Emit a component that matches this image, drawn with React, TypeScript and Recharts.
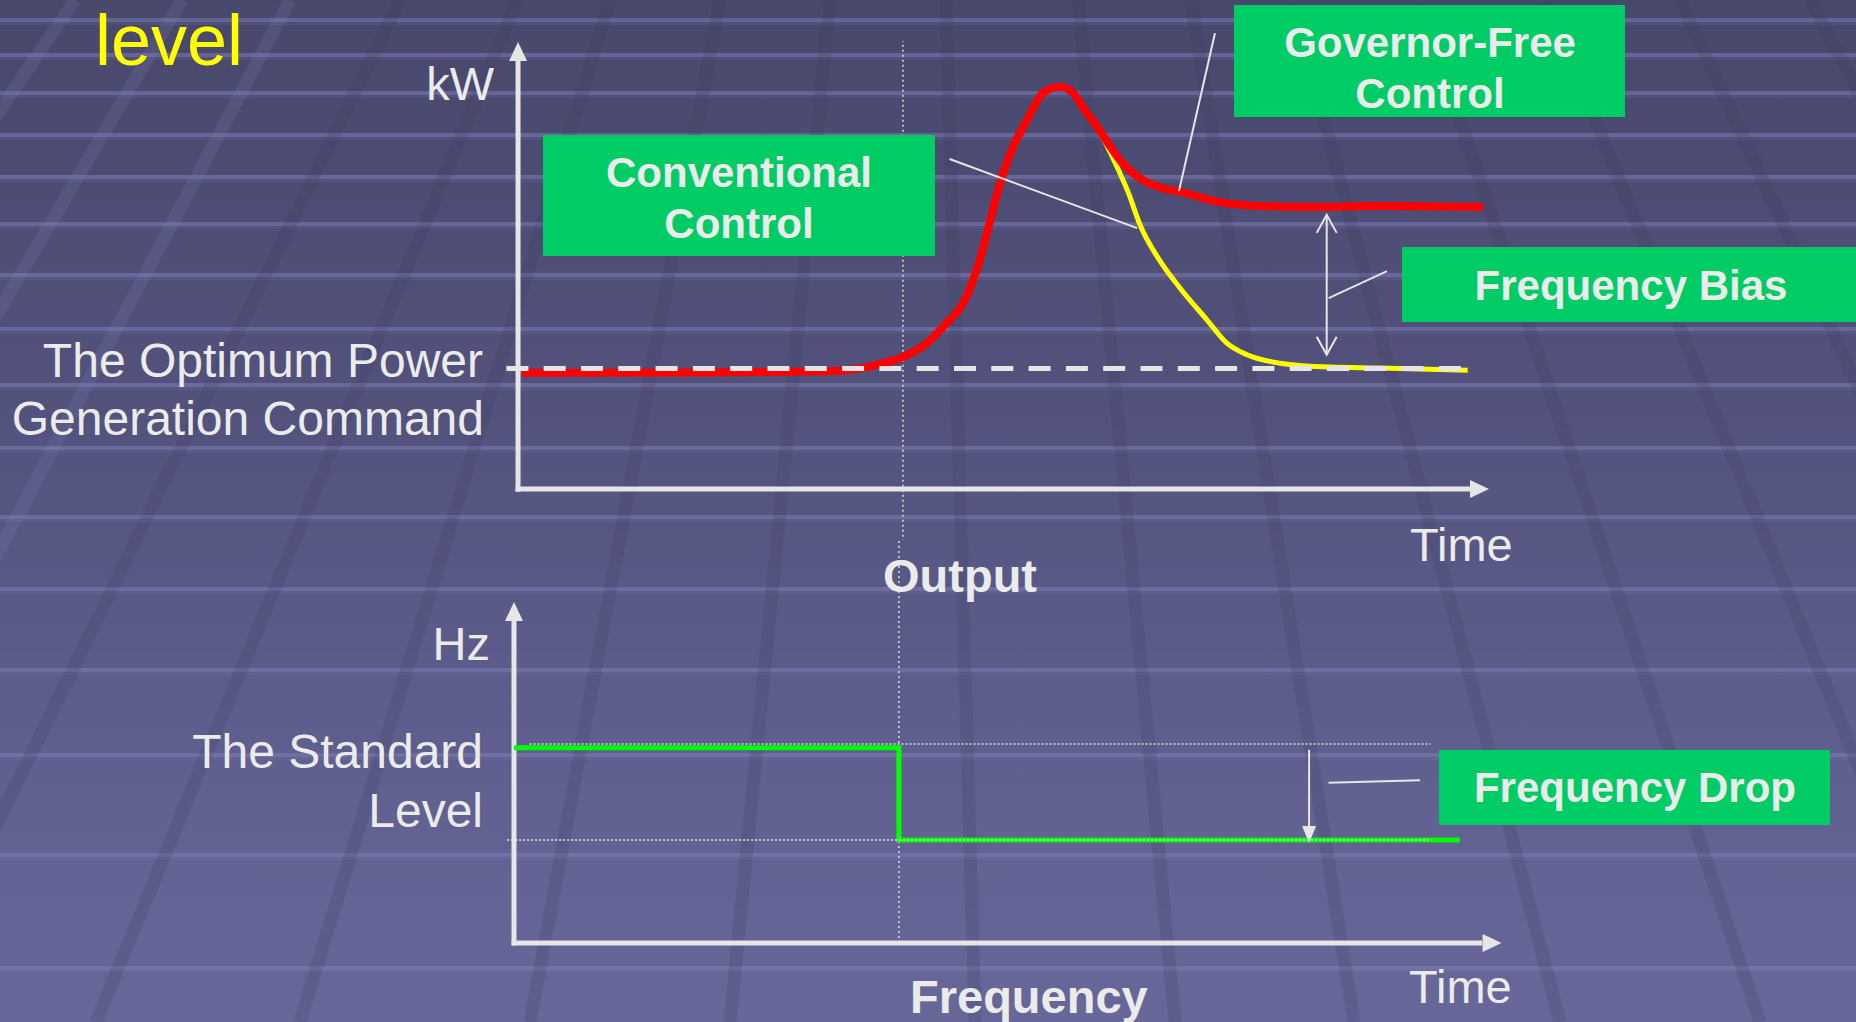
import { LineChart, Line, XAxis, YAxis, ReferenceLine, ReferenceDot } from 'recharts';

const W = 1856;
const H = 1022;

// Output panel (kW against time, time in % of the axis)
const governorFreeTime = [0.4, 18.7, 31.1, 35.2, 36.9, 39.6, 42.1, 43.7, 46.3, 47.5, 48.4, 49.3, 49.8, 50.4, 51.1, 52.0, 52.9, 54.0, 55.8, 57.1, 58.3, 59.6, 60.7, 61.9, 62.9, 64.3, 66.0, 68.6, 72.2, 76.6, 81.8, 88.7, 99.3];
const governorFreeKW = [26.4, 26.5, 26.7, 27.4, 28.2, 30.0, 33.2, 36.8, 44.5, 52.0, 59.5, 67.2, 70.9, 74.8, 78.6, 82.3, 86.1, 90.0, 91.4, 90.0, 86.1, 82.3, 78.6, 74.8, 72.5, 70.2, 68.6, 67.3, 65.2, 64.3, 64.1, 64.3, 64.1];

const conventionalTime = [0.4, 18.7, 31.1, 35.2, 36.9, 39.6, 42.1, 43.7, 46.3, 47.5, 48.4, 49.3, 49.8, 50.4, 51.1, 52.0, 52.9, 54.0, 55.8, 57.1, 58.3, 59.9, 61.4, 62.8, 64.0, 66.0, 68.1, 70.9, 72.9, 75.0, 78.4, 83.5, 88.7, 97.7];
const conventionalKW = [26.4, 26.5, 26.7, 27.4, 28.2, 30.0, 33.2, 36.8, 44.5, 52.0, 59.5, 67.2, 70.9, 74.8, 78.6, 82.3, 86.1, 90.0, 91.4, 90.0, 86.1, 80.9, 74.3, 67.3, 60.0, 52.0, 45.7, 38.4, 33.2, 30.5, 28.6, 27.7, 27.5, 27.0];

const commandTime = [-1.2, 97.1];
const commandKW = [27.4, 27.4];

// Frequency panel (Hz against time)
const frequencyTime = [0, 39.6, 97.3];
const frequencyHz = [57.4, 30.3, 30.3];
const standardLevelHz = 58.5;
const droppedLevelHz = 30.3;

const eventTime = 39.6;
const biasTime = 83.2;
const dropTime = 81.8;

// background decoration
const stripeYs = [20, 55, 93, 135, 177, 224, 275, 329, 385, 448, 517, 589, 670, 755, 855, 968];
const rays: [number, number][] = [
  [-120, -900], [75, -620], [182, -420], [290, -250], [400, -100], [517, 96], [610, 300],
  [720, 530], [830, 730], [946, 975], [1078, 1175], [1191, 1354], [1293, 1560],
  [1420, 1760], [1546, 1963], [1680, 2150], [1810, 2350],
];

const AXIS = '#e6e6e6';
const TEXT = '#ebebeb';
const BOX = '#00cc66';
const FONT = '"Liberation Sans", Arial, sans-serif';

const rows = (ts: number[], vs: number[]) => ts.map((t, i) => ({ t, v: vs[i] }));

const upHead = (p: any) => (
  <polygon points={`${p.cx},${p.cy} ${p.cx - 9},${p.cy + 19} ${p.cx + 9},${p.cy + 19}`} fill={AXIS} />
);
const rightHead = (p: any) => (
  <polygon points={`${p.cx},${p.cy} ${p.cx - 19},${p.cy - 9} ${p.cx - 19},${p.cy + 9}`} fill={AXIS} />
);
const downHead = (p: any) => (
  <polygon points={`${p.cx},${p.cy} ${p.cx - 7},${p.cy - 17} ${p.cx + 7},${p.cy - 17}`} fill={AXIS} />
);
const openUp = (p: any) => (
  <polyline points={`${p.cx - 10},${p.cy + 18} ${p.cx},${p.cy} ${p.cx + 10},${p.cy + 18}`} fill="none" stroke={AXIS} strokeWidth={2} />
);
const openDown = (p: any) => (
  <polyline points={`${p.cx - 10},${p.cy - 18} ${p.cx},${p.cy} ${p.cx + 10},${p.cy - 18}`} fill="none" stroke={AXIS} strokeWidth={2} />
);

const Backdrop = () => (
  <svg width={W} height={H} style={{ position: 'absolute', left: 0, top: 0 }}>
    <defs>
      <linearGradient id="slideBg" x1="0" y1="0" x2="0" y2="1">
        <stop offset="0" stopColor="#48486c" />
        <stop offset="0.4" stopColor="#52527d" />
        <stop offset="0.7" stopColor="#5e5e8e" />
        <stop offset="1" stopColor="#67679a" />
      </linearGradient>
      <linearGradient id="slideStripe" gradientUnits="userSpaceOnUse" x1="0" y1="0" x2="0" y2={H}>
        <stop offset="0" stopColor="#66669a" />
        <stop offset="1" stopColor="#7575aa" />
      </linearGradient>
    </defs>
    <rect width={W} height={H} fill="url(#slideBg)" />
    {stripeYs.map(y => (
      <g key={y}>
        <rect x={0} y={y - 2} width={W} height={4} fill="url(#slideStripe)" opacity={0.9} />
        <rect x={0} y={y + 2} width={W} height={3} fill="url(#slideStripe)" opacity={0.25} />
      </g>
    ))}
    {rays.map(([a, b], i) => (
      <line
        key={i}
        x1={a}
        y1={0}
        x2={b}
        y2={H}
        stroke={a < 300 ? '#8a8ac0' : '#3a3a5e'}
        strokeOpacity={a < 300 ? 0.16 : 0.2}
        strokeWidth={13}
      />
    ))}
  </svg>
);

const OutputChart = () => (
  <LineChart width={W} height={540} margin={{ top: 49, right: 366, bottom: 51, left: 498.6 }}>
    <XAxis type="number" dataKey="t" domain={[-2, 100]} hide />
    <YAxis type="number" domain={[0, 100]} hide />
    <ReferenceLine
      segment={[{ x: eventTime, y: -12 }, { x: eventTime, y: 101.8 }]}
      stroke="#dcdcdc"
      strokeWidth={1.5}
      strokeDasharray="2 3"
      ifOverflow="visible"
    />
    <ReferenceLine segment={[{ x: 0, y: -0.6 }, { x: 0, y: 97.5 }]} stroke={AXIS} strokeWidth={5} ifOverflow="visible" />
    <ReferenceLine segment={[{ x: -0.25, y: 0 }, { x: 98, y: 0 }]} stroke={AXIS} strokeWidth={5} ifOverflow="visible" />
    <ReferenceDot x={0} y={101.6} ifOverflow="visible" shape={upHead} />
    <ReferenceDot x={99.9} y={0} ifOverflow="visible" shape={rightHead} />
    <Line
      data={rows(conventionalTime, conventionalKW)}
      dataKey="v"
      type="monotone"
      stroke="#ffff00"
      strokeWidth={5}
      dot={false}
      isAnimationActive={false}
    />
    <Line
      data={rows(governorFreeTime, governorFreeKW)}
      dataKey="v"
      type="monotone"
      stroke="#ff0000"
      strokeWidth={8}
      dot={false}
      isAnimationActive={false}
    />
    <Line
      data={rows(commandTime, commandKW)}
      dataKey="v"
      type="linear"
      stroke={AXIS}
      strokeWidth={5}
      strokeDasharray="22 15.3"
      dot={false}
      isAnimationActive={false}
    />
    {/* frequency bias arrow and leaders */}
    <ReferenceLine segment={[{ x: biasTime, y: 30.5 }, { x: biasTime, y: 62.3 }]} stroke={AXIS} strokeWidth={2} ifOverflow="visible" />
    <ReferenceDot x={biasTime} y={62.3} ifOverflow="visible" shape={openUp} />
    <ReferenceDot x={biasTime} y={30.5} ifOverflow="visible" shape={openDown} />
    <ReferenceLine segment={[{ x: 89.4, y: 49.5 }, { x: 83.4, y: 43.4 }]} stroke={AXIS} strokeWidth={2} ifOverflow="visible" />
    <ReferenceLine segment={[{ x: 44.4, y: 75.0 }, { x: 63.7, y: 59.3 }]} stroke={AXIS} strokeWidth={2} ifOverflow="visible" />
    <ReferenceLine segment={[{ x: 71.7, y: 103.6 }, { x: 68.0, y: 67.7 }]} stroke={AXIS} strokeWidth={2} ifOverflow="visible" />
  </LineChart>
);

const FrequencyChart = () => (
  <LineChart width={W} height={482} margin={{ top: 63, right: 370, bottom: 79, left: 494.56 }}>
    <XAxis type="number" dataKey="t" domain={[-2, 100]} hide />
    <YAxis type="number" domain={[0, 100]} hide />
    <ReferenceLine
      segment={[{ x: eventTime, y: 1.5 }, { x: eventTime, y: 118.5 }]}
      stroke="#dcdcdc"
      strokeWidth={1.5}
      strokeDasharray="2 3"
      ifOverflow="visible"
    />
    <ReferenceLine segment={[{ x: 1.6, y: standardLevelHz }, { x: 94.3, y: standardLevelHz }]} stroke="#dcdcdc" strokeWidth={1.5} strokeDasharray="2 2" ifOverflow="visible" />
    <ReferenceLine segment={[{ x: 0, y: -0.75 }, { x: 0, y: 94.7 }]} stroke={AXIS} strokeWidth={5} ifOverflow="visible" />
    <ReferenceLine segment={[{ x: -0.25, y: 0 }, { x: 99.6, y: 0 }]} stroke={AXIS} strokeWidth={5} ifOverflow="visible" />
    <ReferenceDot x={0} y={100.3} ifOverflow="visible" shape={upHead} />
    <ReferenceDot x={101.6} y={0} ifOverflow="visible" shape={rightHead} />
    <Line
      data={rows(frequencyTime, frequencyHz)}
      dataKey="v"
      type="stepAfter"
      stroke="#00ff00"
      strokeWidth={5}
      dot={false}
      isAnimationActive={false}
    />
    <ReferenceLine segment={[{ x: -0.7, y: droppedLevelHz }, { x: 94.3, y: droppedLevelHz }]} stroke="#e8e8e8" strokeWidth={1.5} strokeDasharray="2 2" ifOverflow="visible" />
    <ReferenceLine segment={[{ x: dropTime, y: 56.8 }, { x: dropTime, y: 34 }]} stroke={AXIS} strokeWidth={2} ifOverflow="visible" />
    <ReferenceDot x={dropTime} y={29.4} ifOverflow="visible" shape={downHead} />
    <ReferenceLine segment={[{ x: 93.2, y: 47.9 }, { x: 83.8, y: 47.1 }]} stroke={AXIS} strokeWidth={2} ifOverflow="visible" />
  </LineChart>
);

const Box = ({ x, y, w, h, cx, lines }: { x: number; y: number; w: number; h: number; cx: number; lines: [string, number][] }) => (
  <g>
    <rect x={x} y={y} width={w} height={h} fill={BOX} />
    {lines.map(([s, by]) => (
      <text key={s} x={cx} y={by} textAnchor="middle" fill={TEXT} fontFamily={FONT} fontSize={42} fontWeight="bold">
        {s}
      </text>
    ))}
  </g>
);

const Labels = () => {
  const t = { fill: TEXT, fontFamily: FONT, fontSize: 47 };
  const big = { fill: TEXT, fontFamily: FONT, fontSize: 48 };
  return (
    <svg width={W} height={H} style={{ position: 'absolute', left: 0, top: 0, pointerEvents: 'none' }}>
      <text x={95} y={65} fill="#ffff00" fontFamily={FONT} fontSize={72}>level</text>
      <text x={494} y={100} textAnchor="end" {...t}>kW</text>
      <text x={483} y={377} textAnchor="end" {...big}>The Optimum Power</text>
      <text x={484} y={435} textAnchor="end" {...big}>Generation Command</text>
      <text x={1410} y={561} {...t}>Time</text>
      <text x={883} y={592} fontWeight="bold" {...t}>Output</text>
      <text x={490} y={660} textAnchor="end" {...t}>Hz</text>
      <text x={483} y={768} textAnchor="end" {...big}>The Standard</text>
      <text x={483} y={827} textAnchor="end" {...big}>Level</text>
      <text x={910} y={1013} fontWeight="bold" {...t}>Frequency</text>
      <text x={1409} y={1003} {...t}>Time</text>
      <Box x={543} y={135} w={392} h={121} cx={739} lines={[['Conventional', 187], ['Control', 238]]} />
      <Box x={1234} y={5} w={391} h={112} cx={1430} lines={[['Governor-Free', 57], ['Control', 108]]} />
      <Box x={1402} y={247} w={460} h={75} cx={1631} lines={[['Frequency Bias', 300]]} />
      <Box x={1439} y={750} w={391} h={75} cx={1635} lines={[['Frequency Drop', 802]]} />
    </svg>
  );
};

export default function App() {
  return (
    <div style={{ position: 'absolute', left: 0, top: 0, width: W, height: H, overflow: 'hidden', fontFamily: FONT }}>
      <Backdrop />
      <div style={{ position: 'absolute', left: 0, top: 0 }}>
        <OutputChart />
      </div>
      <div style={{ position: 'absolute', left: 0, top: 540 }}>
        <FrequencyChart />
      </div>
      <Labels />
    </div>
  );
}
